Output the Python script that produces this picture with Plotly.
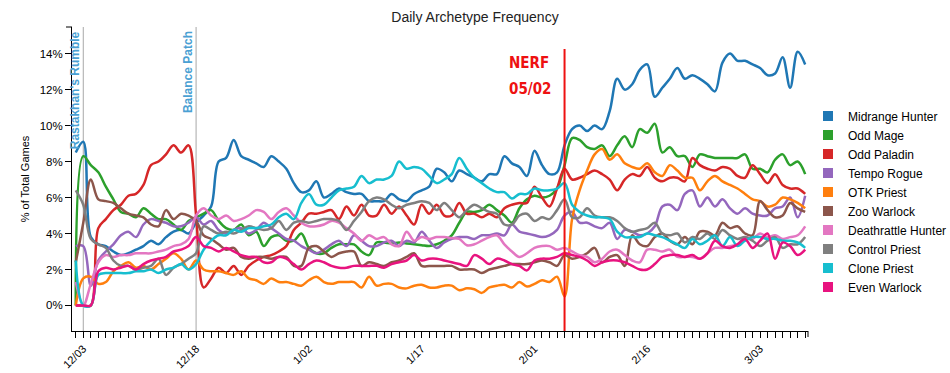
import plotly.graph_objects as go
import pandas as pd

# ---- data (daily share of games, %) from 2018-12-02 to 2019-03-09 ----
start_date = "2018-12-02"
end_date = "2019-03-09"

midrange_hunter = [8.5, 9.1, 3.8, 3.4, 3.3, 3.0, 2.8, 2.9, 3.1, 3.3, 3.6, 3.4, 3.8, 4.1, 4.2, 4.0, 4.6, 5.0, 5.5, 8.0,
                   8.2, 9.2, 8.3, 8.1, 7.9, 7.7, 8.3, 8.0, 7.6, 6.8, 6.3, 6.4, 6.9, 6.0, 6.2, 6.5, 6.3, 6.2, 6.2, 5.8,
                   5.8, 5.8, 6.2, 5.9, 5.8, 6.2, 6.4, 6.6, 7.6, 7.4, 6.9, 7.5, 7.3, 7.1, 6.9, 7.3, 7.3, 8.3, 7.9, 7.7,
                   7.2, 8.6, 7.8, 7.3, 7.4, 8.9, 9.8, 10.0, 9.7, 10.0, 9.8, 10.8, 12.6, 12.0, 12.3, 13.1, 13.4, 11.6, 12.1, 12.6,
                   13.2, 12.6, 12.8, 12.6, 12.3, 11.9, 13.5, 14.0, 13.6, 13.6, 13.4, 13.2, 12.8, 12.9, 13.8, 12.1, 14.1, 13.4]
odd_mage = [0.0, 8.3, 7.8, 7.4, 6.6, 5.9, 5.2, 5.1, 4.9, 5.4, 5.1, 4.8, 4.8, 4.5, 4.2, 4.7, 4.9, 5.1, 5.3, 4.7,
            4.3, 4.2, 4.5, 3.9, 4.1, 3.3, 3.8, 3.9, 3.6, 3.6, 4.0, 3.2, 2.9, 2.9, 3.2, 3.4, 3.4, 3.4, 3.0, 2.8,
            3.5, 3.5, 3.45, 3.5, 3.45, 3.4, 3.35, 3.3, 3.4, 3.6, 3.9, 4.6, 5.2, 5.2, 5.3, 5.6, 5.3, 5.0, 4.6, 5.4,
            5.9, 6.1, 6.0, 6.1, 6.5, 7.8, 9.3, 9.2, 8.8, 8.7, 8.9, 8.3, 8.9, 9.4, 8.8, 9.8, 9.6, 10.1, 8.5, 8.8,
            8.3, 8.3, 7.7, 8.4, 8.3, 8.2, 8.2, 8.2, 8.2, 8.4, 7.6, 7.6, 7.4, 8.1, 8.4, 7.8, 8.0, 7.3]
odd_paladin = [0.0, 0.0, 0.0, 4.3, 4.8, 5.3, 5.6, 6.1, 6.2, 6.7, 7.8, 8.0, 8.4, 8.9, 8.5, 8.9, 5.0, 1.0, 1.5, 2.1,
               1.8, 2.2, 1.7, 2.2, 2.5, 2.7, 2.8, 3.0, 3.3, 4.2, 4.6, 5.1, 5.1, 5.2, 5.3, 4.8, 5.5, 5.0, 5.6, 5.0,
               5.0, 5.6, 5.1, 5.5, 5.0, 4.5, 5.6, 5.1, 5.6, 5.0, 5.0, 5.7, 5.1, 5.1, 4.9, 5.1, 4.9, 5.4, 5.6, 5.7,
               5.7, 6.6, 6.0, 5.5, 6.5, 7.6, 7.0, 7.1, 7.3, 7.5, 7.3, 7.0, 6.4, 7.0, 7.3, 7.2, 7.7, 7.1, 6.9, 7.1,
               7.1, 6.9, 8.2, 7.8, 7.6, 7.5, 7.7, 7.6, 7.2, 7.1, 7.8, 7.3, 6.8, 7.3, 6.7, 6.5, 6.5, 6.2]
tempo_rogue = [3.3, 3.3, 1.1, 2.5, 3.0, 3.4, 3.9, 4.1, 3.8, 4.5, 4.8, 4.7, 4.6, 4.4, 4.4, 4.6, 4.9, 4.5, 4.7, 4.2,
               4.0, 4.2, 4.3, 4.0, 4.2, 4.6, 4.3, 4.0, 3.7, 3.6, 3.3, 3.1, 2.9, 3.1, 3.4, 3.6, 3.3, 3.9, 3.6, 3.3,
               3.3, 3.5, 3.6, 3.3, 3.6, 3.5, 4.1, 3.6, 3.2, 3.5, 3.7, 3.8, 3.8, 3.7, 3.9, 3.9, 4.0, 3.9, 4.5, 4.1,
               4.0, 3.9, 3.8, 3.9, 4.2, 5.0, 5.2, 4.6, 4.6, 4.4, 4.3, 4.6, 3.7, 4.2, 4.1, 3.9, 4.0, 4.4, 5.5, 5.6,
               5.3, 6.2, 6.4, 5.5, 6.0, 5.5, 5.9, 5.4, 5.1, 5.4, 5.1, 5.0, 5.0, 5.4, 5.5, 6.0, 4.9, 6.1]
otk_priest = [0.0, 1.5, 1.6, 1.2, 1.3, 1.9, 2.2, 2.4, 2.1, 2.2, 2.0, 2.3, 2.6, 2.9, 2.6, 2.0, 2.5, 2.0, 1.9, 1.9,
              1.8, 1.7, 1.9, 1.5, 1.4, 1.2, 1.5, 1.3, 1.3, 1.2, 1.1, 1.4, 1.6, 1.3, 1.2, 1.3, 1.3, 1.3, 1.0, 1.6,
              1.1, 1.2, 1.2, 1.0, 0.95, 1.1, 1.15, 1.0, 1.0, 1.1, 1.1, 0.85, 0.95, 0.9, 0.7, 1.0, 1.1, 1.15, 1.0, 1.3,
              1.05, 1.2, 1.4, 1.3, 1.6, 0.5, 4.8, 6.4, 7.5, 8.4, 8.7, 8.1, 8.4, 7.9, 7.7, 7.6, 7.9, 7.4, 7.2, 7.8,
              7.5, 7.1, 7.1, 6.4, 6.9, 7.2, 6.9, 6.7, 6.5, 6.2, 5.9, 5.8, 5.5, 5.6, 6.0, 5.9, 5.7, 5.4]
zoo_warlock = [2.4, 4.6, 7.0, 5.9, 5.8, 5.7, 5.4, 5.1, 5.0, 4.9, 4.5, 4.4, 5.3, 4.8, 5.1, 5.0, 4.7, 3.9, 3.7, 3.4,
               3.1, 3.2, 2.7, 2.6, 2.7, 2.7, 2.6, 2.7, 2.7, 2.2, 2.2, 3.2, 3.3, 3.0, 2.7, 2.9, 3.0, 3.0, 2.2, 2.4,
               2.3, 2.2, 2.4, 2.5, 2.7, 2.9, 2.2, 2.2, 2.2, 2.2, 2.2, 2.0, 2.0, 2.0, 1.8, 2.0, 2.1, 2.2, 2.3, 2.3,
               2.3, 2.4, 2.5, 2.4, 2.2, 2.8, 2.6, 2.7, 2.9, 3.2, 2.4, 2.7, 2.8, 2.2, 3.9, 3.4, 3.3, 3.8, 4.0, 3.6,
               3.4, 3.8, 3.4, 4.1, 4.1, 3.9, 4.6, 4.3, 4.4, 4.0, 3.9, 5.8, 5.3, 4.9, 5.0, 5.7, 5.4, 5.2]
deathrattle_hunter = [1.3, 0.0, 1.2, 2.4, 2.8, 2.7, 2.8, 2.8, 2.9, 2.9, 2.9, 3.0, 3.1, 3.3, 3.4, 3.7, 5.0, 5.4, 5.0, 4.8,
                      5.0, 4.7, 4.8, 5.0, 5.3, 5.2, 4.8, 5.2, 5.4, 5.0, 4.6, 4.4, 4.4, 4.5, 4.7, 4.6, 4.3, 4.0, 3.6, 3.9,
                      3.7, 3.8, 3.4, 3.3, 4.1, 3.6, 3.8, 3.7, 3.8, 3.8, 3.75, 3.7, 3.35, 3.4, 3.6, 3.8, 3.9, 3.4, 3.0, 2.7,
                      2.9, 3.2, 3.3, 3.3, 3.1, 3.2, 3.0, 2.8, 2.7, 2.4, 2.6, 3.0, 3.1, 2.8, 2.5, 2.4, 3.1, 3.1, 3.0, 3.1,
                      2.7, 2.7, 2.7, 2.6, 2.9, 3.2, 3.2, 3.3, 3.4, 3.8, 3.7, 4.0, 3.8, 3.9, 3.7, 3.8, 3.9, 4.4]
control_priest = [6.4, 5.6, 3.7, 3.4, 3.2, 2.5, 2.2, 2.2, 2.0, 2.1, 2.2, 2.6, 1.7, 2.1, 2.3, 2.6, 2.9, 4.4, 4.2, 4.0,
                  4.1, 4.0, 4.2, 4.4, 4.3, 4.2, 4.3, 4.7, 4.2, 4.6, 4.7, 4.6, 4.7, 4.8, 4.8, 4.7, 4.2, 4.7, 5.2, 5.8,
                  6.0, 5.9, 5.6, 5.4, 5.6, 5.7, 5.8, 5.7, 5.3, 5.7, 5.3, 4.9, 5.3, 5.6, 5.4, 5.2, 5.1, 4.5, 4.5, 5.0,
                  5.1, 4.7, 4.9, 4.8, 5.3, 5.9, 4.9, 4.9, 5.4, 5.0, 4.9, 4.9, 4.7, 4.3, 4.1, 4.2, 4.3, 4.6, 4.0, 3.9,
                  4.0, 3.5, 3.8, 3.7, 4.0, 3.7, 4.2, 3.9, 3.7, 3.8, 3.6, 3.3, 3.6, 3.8, 3.2, 3.4, 3.4, 3.8]
clone_priest = [2.5, 0.0, 0.0, 1.7, 1.8, 1.8, 1.8, 1.8, 1.9, 1.9, 2.0, 1.8, 2.0, 2.1, 2.3, 2.0, 2.3, 3.1, 3.6, 3.9,
                3.9, 4.2, 4.1, 4.3, 4.3, 4.4, 4.5, 4.9, 5.1, 4.8, 5.7, 6.2, 5.6, 5.6, 6.0, 6.4, 6.5, 6.6, 7.2, 6.8,
                7.0, 7.0, 7.2, 8.0, 7.6, 7.7, 7.6, 7.2, 6.8, 7.0, 7.3, 8.2, 7.6, 7.1, 6.8, 6.5, 6.3, 6.3, 5.95, 6.2,
                6.2, 6.5, 6.4, 6.4, 6.5, 6.8, 5.6, 5.2, 5.0, 4.9, 4.9, 4.8, 4.1, 3.8, 3.8, 3.8, 4.0, 3.9, 3.8, 3.6,
                3.4, 3.2, 3.7, 3.4, 3.6, 3.9, 3.3, 3.8, 3.3, 3.6, 3.8, 3.8, 3.7, 3.7, 3.6, 3.6, 3.5, 3.2]
even_warlock = [0.0, 0.0, 0.0, 1.9, 2.1, 2.0, 2.1, 2.2, 2.0, 2.3, 2.5, 2.6, 2.7, 3.0, 3.1, 3.3, 3.8, 3.3, 3.2, 3.0,
                3.2, 3.0, 2.8, 2.7, 2.7, 2.4, 2.4, 2.7, 2.6, 2.3, 2.0, 2.3, 2.5, 2.4, 2.2, 2.1, 2.1, 2.2, 2.2, 2.2,
                2.2, 2.1, 2.3, 2.4, 2.5, 2.8, 2.5, 2.6, 2.6, 2.5, 2.4, 2.3, 2.2, 2.8, 2.6, 2.3, 2.6, 2.5, 2.3, 2.2,
                1.95, 2.5, 2.6, 2.6, 2.7, 2.9, 2.8, 2.7, 2.5, 2.2, 2.4, 2.5, 2.5, 2.4, 2.2, 2.0, 2.0, 2.3, 2.7, 2.8,
                2.8, 2.7, 2.8, 2.6, 2.9, 3.6, 3.3, 3.2, 3.4, 3.7, 3.2, 3.6, 4.0, 2.6, 3.5, 3.3, 2.8, 3.1]

archetypes = ["Midrange Hunter", "Odd Mage", "Odd Paladin", "Tempo Rogue", "OTK Priest",
              "Zoo Warlock", "Deathrattle Hunter", "Control Priest", "Clone Priest", "Even Warlock"]
colors = ["#1f77b4", "#2ca02c", "#d62728", "#9467bd", "#ff7f0e",
          "#8c564b", "#e377c2", "#7f7f7f", "#17becf", "#e8137f"]
values = [midrange_hunter, odd_mage, odd_paladin, tempo_rogue, otk_priest,
          zoo_warlock, deathrattle_hunter, control_priest, clone_priest, even_warlock]

tick_dates = ["2018-12-03", "2018-12-18", "2019-01-02", "2019-01-17", "2019-02-01", "2019-02-16", "2019-03-03"]
tick_labels = ["12/03", "12/18", "1/02", "1/17", "2/01", "2/16", "3/03"]
y_ticks = [0, 2, 4, 6, 8, 10, 12, 14]
y_tick_labels = ["0%", "2%", "4%", "6%", "8%", "10%", "12%", "14%"]

event_dates = ["2018-12-03", "2018-12-18"]
event_labels = ["Rastakhan's Rumble", "Balance Patch"]
nerf_date = "2019-02-05"
nerf_labels = ["NERF", "05/02"]

dates = pd.date_range(start_date, end_date, freq="D")
for v in values:
    assert len(v) == len(dates)

FONT = "Liberation Sans, Arial, sans-serif"
fig = go.Figure()
for name, col, vals in zip(archetypes, colors, values):
    fig.add_trace(go.Scatter(x=dates, y=vals, mode="lines", name=name, showlegend=False,
                             line=dict(color=col, width=2.5, shape="spline", smoothing=1)))
for name, col in zip(archetypes, colors):
    fig.add_trace(go.Scatter(x=[None], y=[None], mode="markers", name=name,
                             marker=dict(symbol="square", size=10, color=col)))

shapes = []
for d in event_dates:
    shapes.append(dict(type="line", xref="x", yref="paper", x0=d, x1=d, y0=0, y1=1,
                       line=dict(color="#a8a8a8", width=1), layer="below"))
shapes.append(dict(type="line", xref="x", yref="paper", x0=nerf_date, x1=nerf_date, y0=0, y1=0.928,
                   line=dict(color="#ee1111", width=2), layer="above"))
# outer ticks at axis ends
shapes.append(dict(type="line", xref="paper", yref="paper", xsizemode="pixel", xanchor=0,
                   x0=-6, x1=0, y0=1, y1=1, line=dict(color="black", width=1)))
shapes.append(dict(type="line", xref="paper", yref="paper", ysizemode="pixel", yanchor=0,
                   x0=1, x1=1, y0=-6, y1=0, line=dict(color="black", width=1)))

annotations = []
for d, t in zip(event_dates, event_labels):
    annotations.append(dict(x=d, xref="x", y=1, yref="paper", text=t, showarrow=False,
                            textangle=-90, xanchor="center", yanchor="top", xshift=-8, yshift=-2,
                            font=dict(family=FONT, size=12, color="#4aa0d3", weight="bold")))
for t, yy in zip(nerf_labels, [0.883, 0.796]):
    annotations.append(dict(x=0.591, xref="paper", y=yy, yref="paper", text=t, showarrow=False,
                            xanchor="left", yanchor="middle",
                            font=dict(family="DejaVu Sans Condensed, sans-serif",
                                      size=15, color="#ee1111", weight="bold")))

fig.update_layout(
    width=950, height=373,
    margin=dict(l=72, r=142, t=27, b=42, autoexpand=False),
    paper_bgcolor="white", plot_bgcolor="white",
    font=dict(family=FONT, color="black"),
    title=dict(text="Daily Archetype Frequency", x=0.5, xref="container", y=1 - 17 / 373,
               yref="container", yanchor="middle", xanchor="center",
               font=dict(size=14, color="#222", family=FONT)),
    xaxis=dict(type="date", range=["2018-12-01 12:00", "2019-03-09 09:00"],
               tickmode="array", tickvals=tick_dates, ticktext=tick_labels, tickangle=-45,
               ticks="outside", ticklen=6, tickcolor="black", showline=True, linecolor="black",
               showgrid=False, zeroline=False, tickfont=dict(size=11), automargin=False,
               minor=dict(dtick=86400000, tick0="2018-12-03", ticks="outside", ticklen=6,
                          tickcolor="black", showgrid=False)),
    yaxis=dict(range=[-1.42, 15.48], tickmode="array", tickvals=y_ticks, ticktext=y_tick_labels,
               ticks="outside", ticklen=6, tickcolor="black", showline=True, linecolor="black",
               showgrid=False, zeroline=False, tickfont=dict(size=11.5), automargin=False,
               title=dict(text="% of Total Games", font=dict(size=11), standoff=7)),
    legend=dict(x=1.0, xanchor="left", y=0.755, yanchor="top", font=dict(size=12),
                bgcolor="rgba(0,0,0,0)", itemclick=False),
    shapes=shapes, annotations=annotations,
    showlegend=True,
)

fig.write_html("out.html", config={"displayModeBar": False},
               post_script="document.body.style.margin='0';")
